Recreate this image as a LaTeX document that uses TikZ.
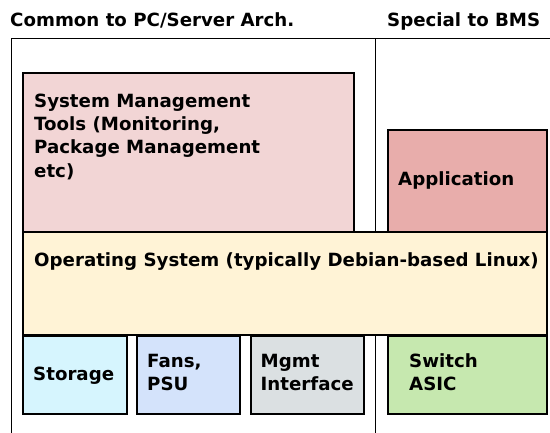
\documentclass[tikz,border=0pt]{standalone}
\usepackage{fontspec}
\setmainfont{DejaVu Sans}
\definecolor{smtc}{HTML}{F2D5D5}
\definecolor{appc}{HTML}{E8ADAB}
\definecolor{osc}{HTML}{FFF3D6}
\definecolor{stoc}{HTML}{D6F5FE}
\definecolor{fanc}{HTML}{D4E3FB}
\definecolor{mgmc}{HTML}{DBE0E2}
\definecolor{swc}{HTML}{C6E8AF}
\begin{document}
\begin{tikzpicture}[x=1pt,y=-1pt,
  box/.style={draw=black, line width=1.8pt, anchor=north west, inner sep=0pt},
  lbl/.style={font=\fontsize{18.2}{23.3}\selectfont\bfseries, inner sep=0pt, anchor=base west, align=left},
  frame/.style={draw=black, line width=1.8pt}]
\useasboundingbox (0,0) rectangle (550,433);
\coordinate (tl) at (11.5,38.5);
\coordinate (tr) at (550,38.5);
\coordinate (bl) at (11.5,433);
\coordinate (mt) at (375.5,38.5);
\coordinate (mb) at (375.5,433);
\draw[frame] (tr) -- (tl) -- (bl);
\draw[frame] (mt) -- (mb);
% boxes
\node[box, fill=smtc, minimum width=331pt, minimum height=159pt] (smt) at (22,72) {};
\node[box, fill=appc, minimum width=159pt, minimum height=102pt] (app) at (387,129) {};
\node[box, fill=osc, minimum width=524pt, minimum height=103pt] (os) at (22,231) {};
\node[box, fill=stoc, minimum width=104pt, minimum height=78pt] (sto) at (22,335) {};
\node[box, fill=fanc, minimum width=103pt, minimum height=78pt] (fan) at (136,335) {};
\node[box, fill=mgmc, minimum width=113pt, minimum height=78pt] (mgm) at (250,335) {};
\node[box, fill=swc, minimum width=159pt, minimum height=78pt] (sw) at (387,335) {};
% labels (base anchor = baseline of last line)
\node[lbl] (h1) at (10,26.7) {Common to PC/Server Arch.};
\node[lbl] (h2) at (387,26.7) {Special to BMS};
\node[lbl] (smtl) at (34,177.2) {System Management\\Tools (Monitoring,\\Package Management\\etc)};
\node[lbl] (appl) at (398,185.7) {Application};
\node[lbl] (osl) at (34,267) {Operating System (typically Debian-based Linux)};
\node[lbl] (stol) at (33,380.7) {Storage};
\node[lbl] (fanl) at (147,391) {Fans,\\PSU};
\node[lbl] (mgml) at (260.5,391) {Mgmt\\Interface};
\node[lbl] (swl) at (409,391) {Switch\\ASIC};
\end{tikzpicture}
\end{document}
